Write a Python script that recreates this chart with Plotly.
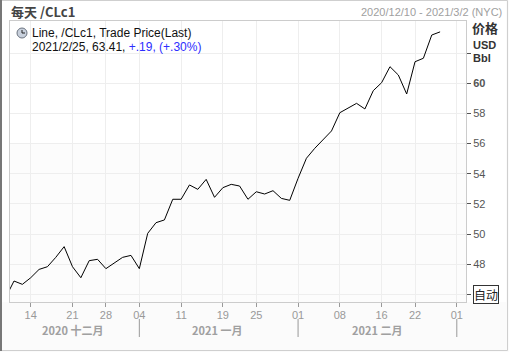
import plotly.graph_objects as go

# Trading days shown on the axis (category axis, one slot per trading day)
dates = [
    "2020-12-09", "2020-12-10", "2020-12-11", "2020-12-14", "2020-12-15", "2020-12-16",
    "2020-12-17", "2020-12-18", "2020-12-21", "2020-12-22", "2020-12-23", "2020-12-24",
    "2020-12-28", "2020-12-29", "2020-12-30", "2020-12-31",
    "2021-01-04", "2021-01-05", "2021-01-06", "2021-01-07", "2021-01-08", "2021-01-11",
    "2021-01-12", "2021-01-13", "2021-01-14", "2021-01-15", "2021-01-19", "2021-01-20",
    "2021-01-21", "2021-01-22", "2021-01-25", "2021-01-26", "2021-01-27", "2021-01-28",
    "2021-01-29",
    "2021-02-01", "2021-02-02", "2021-02-03", "2021-02-04", "2021-02-05", "2021-02-08",
    "2021-02-09", "2021-02-10", "2021-02-11", "2021-02-12", "2021-02-16", "2021-02-17",
    "2021-02-18", "2021-02-19", "2021-02-22", "2021-02-23", "2021-02-24", "2021-02-25",
    "2021-02-26", "2021-03-01", "2021-03-02",
]

prices = [
    45.80, 46.89, 46.67, 47.11, 47.66, 47.84, 48.46, 49.17, 47.84, 47.11, 48.24, 48.33,
    47.71, 48.06, 48.46, 48.59,
    47.71, 50.05, 50.76, 50.94, 52.31, 52.31, 53.26, 52.97, 53.63, 52.44, 53.08, 53.30,
    53.19, 52.31, 52.81, 52.66, 52.88, 52.37, 52.24,
    53.70, 55.03, 55.69, 56.24, 56.84, 58.05, 58.38, 58.67, 58.30, 59.51, 60.04, 61.10,
    60.55, 59.29, 61.43, 61.66, 63.20, 63.41,
]

tick_dates = ["2020-12-14", "2020-12-21", "2020-12-28", "2021-01-04", "2021-01-11",
              "2021-01-19", "2021-01-25", "2021-02-01", "2021-02-08", "2021-02-16",
              "2021-02-22", "2021-03-01"]
tick_text = ["14", "21", "28", "04", "11", "19", "25", "01", "08", "16", "22", "01"]

month_labels = ["2020 十二月", "2021 一月", "2021 二月"]
month_centers = [8.0, 25.3, 44.4]
month_separators = ["2021-01-04", "2021-02-01", "2021-03-01"]

y_tickvals = [46, 48, 50, 52, 54, 56, 58, 60, 62]
y_ticktext = ["", "48", "50", "52", "54", "56", "58", "<b>60</b>", ""]

FONT = "Tahoma, Liberation Sans, DejaVu Sans, sans-serif"
CJK = "Noto Sans CJK SC"

fig = go.Figure()
fig.add_trace(go.Scatter(
    x=dates[:len(prices)], y=prices, mode="lines",
    line=dict(color="black", width=1), hoverinfo="skip", showlegend=False,
))

W, H = 509, 352
L, R, T, B = 10, 466, 21, 302


def px(xp):
    return (xp - L) / (R - L)


def py(yp):
    return (B - yp) / (B - T)


fig.update_layout(
    width=W, height=H,
    margin=dict(l=L, r=W - R, t=T, b=H - B),
    paper_bgcolor="#fbfbfb",
    plot_bgcolor="white",
    font=dict(family=FONT, size=11, color="#333"),
    xaxis=dict(
        type="category", categoryorder="array", categoryarray=dates,
        range=[0.52, 55.1],
        tickmode="array", tickvals=tick_dates, ticktext=tick_text,
        ticks="outside", ticklen=4, tickcolor="#999",
        ticklabelstandoff=-1,
        tickfont=dict(size=11, color="#999", family=FONT),
        showgrid=True, gridcolor="#eeeeee", gridwidth=1,
        showline=True, linecolor="#cccccc", mirror=True,
        zeroline=False,
    ),
    yaxis=dict(
        side="right", range=[45.5, 64.13],
        tickmode="array", tickvals=y_tickvals, ticktext=y_ticktext,
        ticks="outside", ticklen=4, tickcolor="#555",
        tickfont=dict(size=11, color="#555", family=FONT),
        showgrid=True, gridcolor="#eeeeee", gridwidth=1,
        showline=True, linecolor="#cccccc", mirror=True,
        zeroline=False,
    ),
)

shapes = []
# white header / plot region background
shapes.append(dict(type="rect", xref="paper", yref="paper", x0=px(2), x1=px(506),
                   y0=py(302), y1=py(1), fillcolor="white", line=dict(width=0), layer="below"))
# slightly shaded lower half of plot
shapes.append(dict(type="rect", xref="paper", yref="y", x0=0, x1=1, y0=45.5, y1=56,
                   fillcolor="#fcfcfc", line=dict(width=0), layer="below"))
# outer frame
shapes.append(dict(type="rect", xref="paper", yref="paper", x0=px(0.5), x1=px(507.5),
                   y0=py(350.5), y1=py(0.5), line=dict(color="#cfcfcf", width=1)))
shapes.append(dict(type="line", xref="paper", yref="paper", x0=px(1), x1=px(1),
                   y0=py(351), y1=py(0), line=dict(color="#777", width=2)))
# month separators
for d in month_separators:
    shapes.append(dict(type="line", xref="x", yref="paper", x0=d, x1=d,
                       y0=py(319), y1=py(337), line=dict(color="#999", width=1)))
# clock icon
shapes.append(dict(type="circle", xref="paper", yref="paper",
                   x0=px(17), x1=px(27), y0=py(38), y1=py(28),
                   fillcolor="#c8d0dc", line=dict(color="#6b7380", width=1)))
shapes.append(dict(type="line", xref="paper", yref="paper", x0=px(22), x1=px(22),
                   y0=py(33), y1=py(30), line=dict(color="#222", width=1)))
shapes.append(dict(type="line", xref="paper", yref="paper", x0=px(22), x1=px(25),
                   y0=py(33), y1=py(33), line=dict(color="#222", width=1)))
fig.update_layout(shapes=shapes)

ann = []
ann.append(dict(xref="paper", yref="paper", x=px(9), y=py(12), xanchor="left", yanchor="middle",
                text="<b>每天 /CLc1</b>", showarrow=False,
                font=dict(family=CJK, size=13, color="#444")))
ann.append(dict(xref="paper", yref="paper", x=px(504), y=py(12), xanchor="right", yanchor="middle",
                text="2020/12/10 - 2021/3/2 (NYC)", showarrow=False,
                font=dict(family=FONT, size=11, color="#a0a0a0")))
ann.append(dict(xref="paper", yref="paper", x=px(30), y=py(33), xanchor="left", yanchor="middle",
                text="Line, /CLc1, Trade Price(Last)", showarrow=False,
                font=dict(family=FONT, size=12, color="#111")))
ann.append(dict(xref="paper", yref="paper", x=px(30), y=py(47), xanchor="left", yanchor="middle",
                text="2021/2/25, 63.41, <span style='color:#2d2dff'>+.19, (+.30%)</span>",
                showarrow=False, font=dict(family=FONT, size=12, color="#111")))
ann.append(dict(xref="paper", yref="paper", x=px(485), y=py(27.5), xanchor="center", yanchor="middle",
                text="<b>价格</b>", showarrow=False, font=dict(family=CJK, size=13, color="#333")))
ann.append(dict(xref="paper", yref="paper", x=px(471), y=py(44.5), xanchor="left", yanchor="middle",
                text="<b>USD</b>", showarrow=False, font=dict(family=FONT, size=11, color="#333")))
ann.append(dict(xref="paper", yref="paper", x=px(471), y=py(58.5), xanchor="left", yanchor="middle",
                text="<b>Bbl</b>", showarrow=False, font=dict(family=FONT, size=11, color="#333")))
ann.append(dict(xref="paper", yref="paper", x=px(486), y=py(294.5), xanchor="center", yanchor="middle",
                text="自动", showarrow=False, font=dict(family=CJK, size=12, color="#222"),
                bgcolor="white", bordercolor="#333", borderwidth=1, borderpad=0))
for lab, c in zip(month_labels, month_centers):
    ann.append(dict(xref="x", yref="paper", x=c, y=py(329.5), xanchor="center", yanchor="middle",
                    text="<b>" + lab + "</b>", showarrow=False,
                    font=dict(family=CJK, size=11, color="#a0a0a0")))
fig.update_layout(annotations=ann)

fig.write_html("out.html")
